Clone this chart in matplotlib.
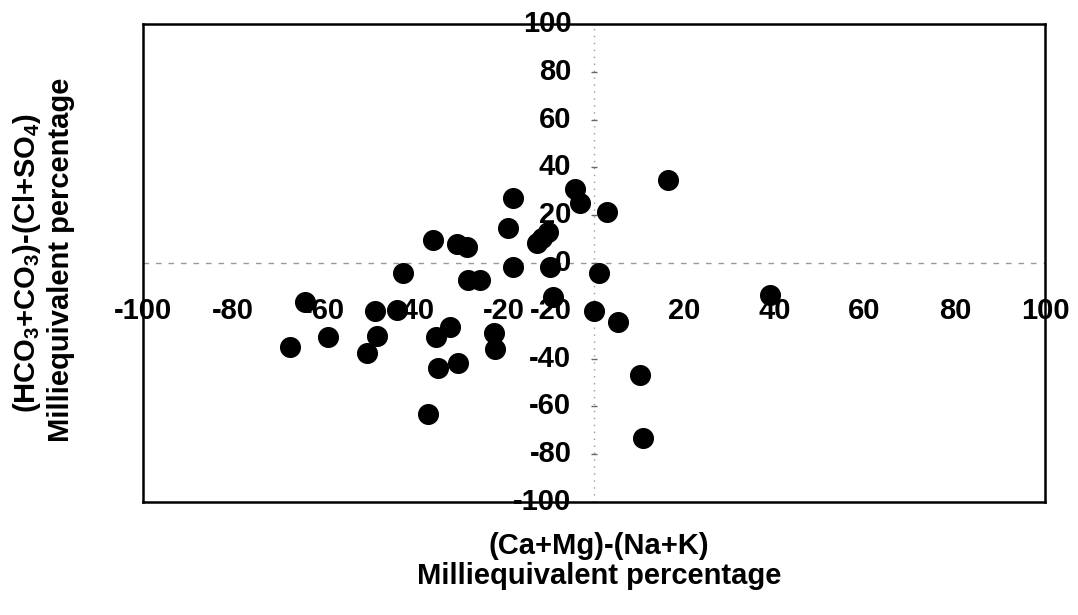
import matplotlib
matplotlib.use("Agg")
import matplotlib.pyplot as plt
import numpy as np

plt.rcParams['font.family'] = ['Liberation Sans', 'DejaVu Sans']
plt.rcParams['font.weight'] = 'bold'
plt.rcParams['mathtext.fontset'] = 'custom'
plt.rcParams['mathtext.bf'] = 'Liberation Sans:bold'
plt.rcParams['mathtext.rm'] = 'Liberation Sans:bold'
plt.rcParams['mathtext.default'] = 'bf'

# (Ca+Mg)-(Na+K) vs (HCO3+CO3)-(Cl+SO4), milliequivalent percentage
cation_diff = [-35.7, -30.4, -28.2, -42.4, -27.9, -25.3, -64.1, -48.6, -43.7, -67.4,
               -59.0, -48.1, -50.3, -35.0, -31.9, -34.6, -30.2, -36.8, -18.0, -4.2,
               -3.1, 2.9, -19.1, -10.2, -11.5, -12.6, -18.0, -9.8, 1.1, -9.1,
               0.0, 5.3, -22.2, -22.0, 10.2, 10.9, 16.4, 39.0]
anion_diff = [9.6, 7.9, 6.7, -4.2, -7.1, -7.1, -16.3, -20.1, -19.7, -35.1,
              -31.0, -30.5, -37.7, -31.0, -26.8, -43.9, -41.8, -63.2, 27.2, 31.0,
              25.1, 21.3, 14.6, 13.0, 10.5, 8.4, -1.7, -1.7, -4.2, -14.2,
              -20.1, -24.7, -29.3, -36.0, -46.9, -73.2, 34.7, -13.4]

x_ticks = [-100, -80, -60, -40, -20, 20, 40, 60, 80, 100]
y_ticks = [100, 80, 60, 40, 20, 0, -20, -40, -60, -80, -100]

fig = plt.figure(figsize=(10.78, 6.15), dpi=100)
ax = fig.add_axes([0.1327, 0.1837, 0.8367, 0.7772])
ax.set_xlim(-100, 100)
ax.set_ylim(-100, 100)
ax.set_xticks([])
ax.set_yticks([])
for sp in ax.spines.values():
    sp.set_linewidth(1.8)
    sp.set_color('black')

# axes through the origin
ax.axhline(0, color='#999999', lw=1.0, ls=(0, (4, 5)), zorder=1)
ax.axvline(0, color='#999999', lw=1.0, ls=(0, (1, 4)), zorder=1)
ax.plot([0] * len(y_ticks), y_ticks, lw=0, marker='_', ms=4, color='#666666', zorder=1)

ax.scatter(cation_diff, anion_diff, s=200, color='black', zorder=3)

# tick labels drawn next to the centered axes
for xv in x_ticks:
    ax.text(xv, -20, str(xv), ha='center', va='center', fontsize=21,
            fontweight='bold', zorder=2, clip_on=False)
for yv in y_ticks:
    ax.text(-5, yv, str(yv), ha='right', va='center', fontsize=21,
            fontweight='bold', zorder=2, clip_on=False)

fig.text(27 / 1078, 1 - 263 / 615, '(HCO$_3$+CO$_3$)-(Cl+SO$_4$)', rotation=90,
         ha='center', va='center', fontsize=21, fontweight='bold')
fig.text(61 / 1078, 1 - 260 / 615, 'Milliequivalent percentage', rotation=90,
         ha='center', va='center', fontsize=21, fontweight='bold')
fig.text(599 / 1078, 1 - 546 / 615, '(Ca+Mg)-(Na+K)',
         ha='center', va='center', fontsize=21, fontweight='bold')
fig.text(599 / 1078, 1 - 576 / 615, 'Milliequivalent percentage',
         ha='center', va='center', fontsize=21, fontweight='bold')

fig.savefig('out.png', dpi=100)
